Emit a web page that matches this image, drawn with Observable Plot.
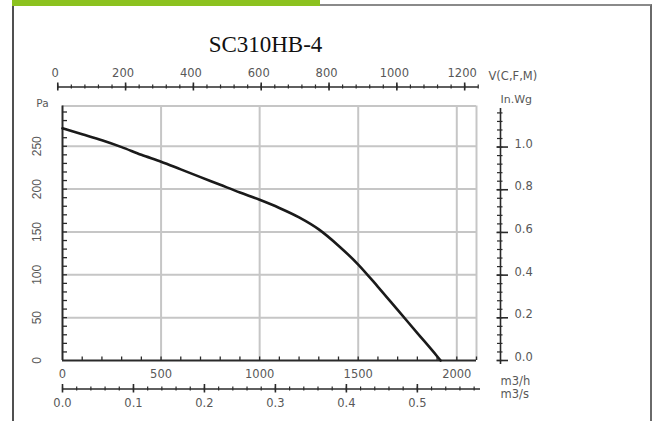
<!DOCTYPE html>
<html>
<head>
<meta charset="utf-8">
<script src="https://cdn.jsdelivr.net/npm/d3@7"></script>
<script src="https://cdn.jsdelivr.net/npm/@observablehq/plot@0.6"></script>
<style>
  html, body { margin: 0; padding: 0; background: #fff; }
  body { width: 663px; height: 421px; position: relative; overflow: hidden; }
  #box { position: absolute; left: 12px; top: 4px; width: 636px; height: 440px;
         border-left: 2px solid #505050; border-top: 2px solid #8a8a8a; border-right: 2px solid #6a6a6a; }
  #bar { position: absolute; left: 12px; top: 0; width: 308px; height: 6px; background: #8cc21f; }
  #chart { position: absolute; left: 0; top: 0; }
</style>
</head>
<body>
<div id="box"></div>
<div id="bar"></div>
<div id="chart"></div>
<script>
// ---- data ----
const title = "SC310HB-4";
const flow = [0, 100, 200, 300, 400, 500, 600, 700, 800, 900, 1000, 1100, 1200, 1300, 1400, 1500, 1600, 1700, 1800, 1900, 1918]; // m3/h
const pressure = [271, 264, 257, 249, 240, 232, 223, 214, 205, 196, 187.5, 178, 167, 153, 134, 112, 86, 59, 32, 5, 0]; // Pa
const paTicks = [0, 50, 100, 150, 200, 250];
const m3hTicks = [0, 500, 1000, 1500, 2000];
const cfmTicks = [0, 200, 400, 600, 800, 1000, 1200];
const m3sTicks = [0, 0.1, 0.2, 0.3, 0.4, 0.5];
const inwgTicks = [0, 0.2, 0.4, 0.6, 0.8, 1.0];

// ---- layout ----
const W = 663, H = 421;
const mL = 62, mR = 187, mT = 105.5, mB = 61;
const xMax = 2100, yMax = 297;
const kx = (W - mL - mR) / xMax, ky = (H - mT - mB) / yMax;
const xAt = px => (px - mL) / kx;          // pixel column -> m3/h
const yAt = py => (H - mB - py) / ky;      // pixel row -> Pa
const cfm2m3h = c => -24 + c * 1.72;
const m3s2m3h = s => s * 3600;
const inwg2pa = w => w * 249.09;

const data = flow.map((f, i) => ({f, p: pressure[i]}));
const grid = "#c6c6c6", ink = "#2a2a2a", txt = "#585858";
const numFont = {fontFamily: "DejaVu Sans", fontSize: 11.5, fill: txt};

const cfmMinor = d3.range(0, 1241, 40);
const m3sMinor = d3.range(0, 30).map(i => i * 0.02);
const inwgMinor = d3.range(0, 30).map(i => i * 0.04);

const chart = Plot.plot({
  width: W, height: H,
  marginLeft: mL, marginRight: mR, marginTop: mT, marginBottom: mB,
  x: {domain: [0, xMax], axis: null},
  y: {domain: [0, yMax], axis: null},
  style: {background: "transparent", overflow: "visible", fontFamily: "DejaVu Sans"},
  marks: [
    // grid and frame
    Plot.ruleX(m3hTicks.filter(d => d > 0), {x: d => d, y1: 0, y2: yMax, stroke: grid, strokeWidth: 2}),
    Plot.ruleY(paTicks.filter(d => d > 0), {y: d => d, x1: 0, x2: xMax, stroke: grid, strokeWidth: 2}),
    Plot.ruleY([yMax], {x1: 0, x2: xMax, stroke: grid, strokeWidth: 2}),
    Plot.ruleX([xMax], {y1: 0, y2: yMax, stroke: grid, strokeWidth: 2}),
    // left and bottom axes lines
    Plot.ruleX([0], {y1: 0, y2: yMax, stroke: ink, strokeWidth: 2}),
    Plot.ruleY([0], {x1: 0, x2: xMax, stroke: ink, strokeWidth: 2}),
    Plot.ruleY(d3.range(10, 300, 10), {y: d => d, x1: 0, x2: xAt(67), stroke: ink, strokeWidth: 1.3}),
    Plot.ruleX(d3.range(100, 2101, 100), {x: d => d, y1: 0, y2: yAt(356.5), stroke: ink, strokeWidth: 1.3}),
    // curve
    Plot.line(data, {x: "f", y: "p", stroke: "#1a1a1a", strokeWidth: 2.6, curve: "monotone-x"}),
    // left labels
    Plot.text(paTicks, {x: xAt(37), y: d => d, text: d => String(d), rotate: -90,
      fontFamily: "Liberation Sans", fontSize: 12, fill: txt}),
    Plot.text(["Pa"], {x: xAt(42), y: yAt(103), text: d => d, fontFamily: "DejaVu Sans", fontSize: 10.5, fill: txt}),
    // bottom m3/h labels
    Plot.text(m3hTicks, {x: d => d, y: yAt(374), text: d => String(d), ...numFont}),
    // m3/s axis
    Plot.ruleY([yAt(388.5)], {x1: 0, x2: xAt(480), stroke: ink, strokeWidth: 1.5}),
    Plot.ruleX(m3sMinor, {x: m3s2m3h, y1: yAt(390.5), y2: yAt(386.5), stroke: ink, strokeWidth: 1.2}),
    Plot.ruleX(m3sTicks, {x: m3s2m3h, y1: yAt(392.5), y2: yAt(384), stroke: ink, strokeWidth: 1.6}),
    Plot.text(m3sTicks, {x: m3s2m3h, y: yAt(402.5), text: d => d.toFixed(1), ...numFont}),
    Plot.text(["m3/h"], {x: xAt(500), y: yAt(381), text: d => d, textAnchor: "start", ...numFont}),
    Plot.text(["m3/s"], {x: xAt(500), y: yAt(393.5), text: d => d, textAnchor: "start", ...numFont}),
    // top CFM axis
    Plot.ruleY([yAt(86.5)], {x1: cfm2m3h(0), x2: xAt(478), stroke: ink, strokeWidth: 1.5}),
    Plot.ruleX(cfmMinor, {x: cfm2m3h, y1: yAt(88.5), y2: yAt(84.5), stroke: ink, strokeWidth: 1.2}),
    Plot.ruleX(cfmTicks, {x: cfm2m3h, y1: yAt(90.5), y2: yAt(82.5), stroke: ink, strokeWidth: 1.6}),
    Plot.text(cfmTicks, {x: d => cfm2m3h(d) - xAt(64.5) + xAt(62), y: yAt(73), text: d => String(d), ...numFont}),
    Plot.text(["V(C,F,M)"], {x: xAt(488), y: yAt(76), text: d => d, textAnchor: "start", ...numFont}),
    // right in.Wg axis
    Plot.ruleX([xAt(500)], {y1: yAt(364), y2: yAt(108), stroke: ink, strokeWidth: 1.6}),
    Plot.ruleY(inwgMinor, {y: inwg2pa, x1: xAt(497), x2: xAt(502.5), stroke: ink, strokeWidth: 1.2}),
    Plot.ruleY(inwgTicks, {y: inwg2pa, x1: xAt(496.5), x2: xAt(508), stroke: ink, strokeWidth: 1.6}),
    Plot.text(inwgTicks, {x: xAt(514), y: inwg2pa, dy: -3, text: d => d.toFixed(1), textAnchor: "start", ...numFont}),
    Plot.text(["In.Wg"], {x: xAt(500), y: yAt(99), text: d => d, textAnchor: "start", ...numFont, fontSize: 11}),
    // title
    Plot.text([title], {x: xAt(265), y: yAt(44), text: d => d, fontFamily: "Liberation Serif", fontSize: 23, fill: "#111"})
  ]
});
document.getElementById("chart").appendChild(chart);
</script>
</body>
</html>
